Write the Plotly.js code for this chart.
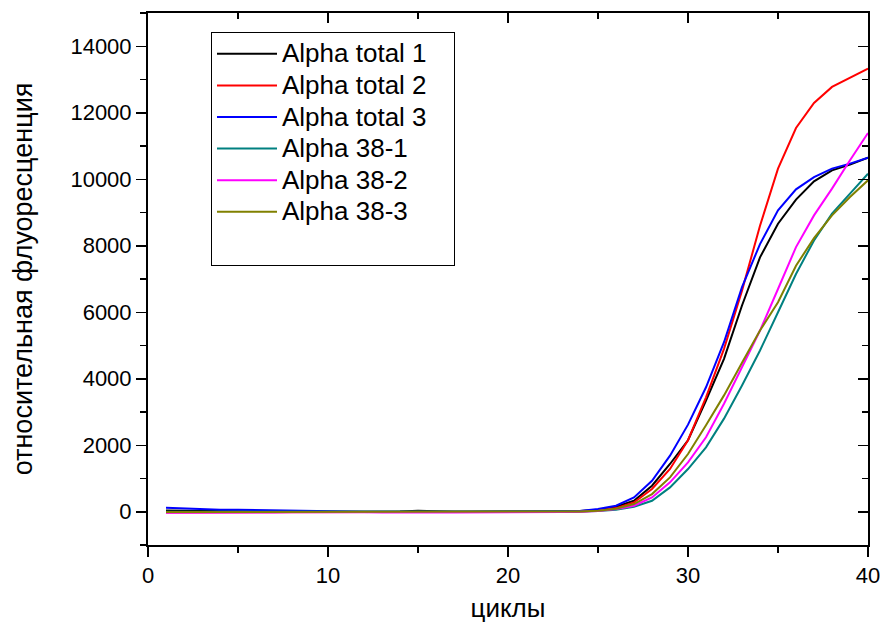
<!DOCTYPE html>
<html>
<head>
<meta charset="utf-8">
<script src="https://cdn.plot.ly/plotly-3.0.1.min.js"></script>
<style>html,body{margin:0;padding:0;background:#fff;}#chart{width:882px;height:623px;}</style>
</head>
<body>
<div id="chart"></div>
<script>
const cycles = Array.from({length: 40}, (_, i) => i + 1);

const seriesNames = ["Alpha total 1", "Alpha total 2", "Alpha total 3", "Alpha 38-1", "Alpha 38-2", "Alpha 38-3"];

const alphaTotal1 = [40, 30, 20, 15, 10, 5, 0, 0, 0, 0, 0, -5, -5, 10, 30, 10, 0, 0, 0, -5, 0, 5, 10, 20,
  60, 150, 331, 783, 1436, 2150, 3342, 4598, 6203, 7650, 8663, 9386, 9937, 10268, 10440, 10650];
const alphaTotal2 = [-20, -20, -15, -10, -10, -5, 0, 0, 0, 0, 0, -5, -10, -5, 0, -5, -5, -5, -10, -10, -5, -5, 0, 10,
  40, 110, 280, 683, 1285, 2150, 3442, 4899, 6650, 8600, 10320, 11540, 12296, 12777, 13060, 13330];
const alphaTotal3 = [120, 100, 70, 60, 60, 50, 30, 20, 10, 5, 0, 0, 0, 5, 10, 5, 0, 0, 0, 0, 5, 10, 15, 25,
  80, 180, 430, 933, 1686, 2620, 3743, 5098, 6754, 8050, 9064, 9696, 10066, 10320, 10470, 10650];
const alpha38_1 = [0, 0, -5, -5, -5, 0, 0, 0, 0, 0, 0, -5, -10, -5, 0, -5, -10, -10, -5, -5, -5, 0, 0, 5,
  20, 60, 150, 331, 732, 1285, 1937, 2800, 3800, 4850, 6000, 7150, 8160, 8964, 9566, 10169];
const alpha38_2 = [-30, -30, -35, -40, -40, -30, -20, -15, -10, -10, -10, -15, -20, -15, -15, -20, -25, -25, -20, -20, -15, -10, -10, 0,
  20, 80, 180, 431, 883, 1485, 2238, 3250, 4330, 5450, 6700, 7959, 8913, 9717, 10570, 11392];
const alpha38_3 = [-10, -10, -10, -5, -5, 0, 0, 0, 0, 0, 0, -5, -5, 0, 0, -5, -5, -5, 0, 0, 0, 0, 5, 10,
  30, 90, 231, 532, 1034, 1737, 2600, 3500, 4480, 5450, 6300, 7400, 8230, 8913, 9465, 9967];

const seriesValues = [alphaTotal1, alphaTotal2, alphaTotal3, alpha38_1, alpha38_2, alpha38_3];
const seriesColors = ["#000000", "#FF0000", "#0000FF", "#008080", "#FF00FF", "#808000"];

const xTickVals = [0, 10, 20, 30, 40];
const yTickVals = [0, 2000, 4000, 6000, 8000, 10000, 12000, 14000];

const FONT = "Arial, 'Liberation Sans', sans-serif";
const legendLabel = s => '<span style="font-size:26px">' + s + '</span>';

const traces = seriesValues.map((vals, i) => ({
  type: "scatter",
  mode: "lines",
  x: cycles,
  y: vals,
  name: legendLabel(seriesNames[i]),
  line: {color: seriesColors[i], width: 2}
}));

// spacer entry: empty bottom row and extra right padding of the legend box
traces.push({
  type: "scatter", mode: "lines", x: [null], y: [null],
  name: legendLabel("\u00a0".repeat(23)),
  line: {color: "rgba(0,0,0,0)", width: 0}, hoverinfo: "skip"
});
// dummy trace to register mirrored inside-tick axes
traces.push({
  type: "scatter", mode: "lines", x: [null], y: [null], xaxis: "x2", yaxis: "y2",
  showlegend: false, hoverinfo: "skip"
});

const layout = {
  width: 882, height: 623,
  margin: {l: 148, r: 14, t: 13, b: 78},
  paper_bgcolor: "#fff", plot_bgcolor: "#fff",
  font: {family: FONT, color: "#000", size: 22},
  showlegend: true,
  legend: {
    x: 0.0875, y: 0.9643, xanchor: "left", yanchor: "top",
    bgcolor: "#fff", bordercolor: "#000", borderwidth: 1,
    font: {family: FONT, size: 22, color: "#000"},
    itemwidth: 60, tracegroupgap: 0
  },
  xaxis: {
    range: [0, 40], tickvals: xTickVals, ticktext: xTickVals.map(String),
    ticks: "outside", ticklen: 10, tickwidth: 1.5, tickcolor: "#000",
    minor: {dtick: 5, tick0: 0, ticks: "outside", ticklen: 6, tickwidth: 1.5, tickcolor: "#000", showgrid: false},
    showline: true, linecolor: "#000", linewidth: 2, mirror: true,
    showgrid: false, zeroline: false,
    tickfont: {size: 22},
    title: {text: "циклы", font: {size: 26}, standoff: 14}
  },
  yaxis: {
    range: [-1000, 15000], tickvals: yTickVals, ticktext: yTickVals.map(String),
    ticks: "outside", ticklen: 10, tickwidth: 1.5, tickcolor: "#000",
    minor: {dtick: 1000, tick0: 0, ticks: "outside", ticklen: 6, tickwidth: 1.5, tickcolor: "#000", showgrid: false},
    showline: true, linecolor: "#000", linewidth: 2, mirror: true,
    showgrid: false, zeroline: false,
    tickfont: {size: 22},
    title: {text: "относительная флуоресценция", font: {size: 27}, standoff: 30}
  },
  xaxis2: {
    overlaying: "x", side: "top", anchor: "y", range: [0, 40], tickvals: xTickVals,
    showticklabels: false, ticks: "inside", ticklen: 10, tickwidth: 1.5, tickcolor: "#000",
    minor: {dtick: 5, tick0: 0, ticks: "inside", ticklen: 6, tickwidth: 1.5, tickcolor: "#000", showgrid: false},
    showline: false, showgrid: false, zeroline: false
  },
  yaxis2: {
    overlaying: "y", side: "right", anchor: "x", range: [-1000, 15000], tickvals: yTickVals,
    showticklabels: false, ticks: "inside", ticklen: 10, tickwidth: 1.5, tickcolor: "#000",
    minor: {dtick: 1000, tick0: 0, ticks: "inside", ticklen: 6, tickwidth: 1.5, tickcolor: "#000", showgrid: false},
    showline: false, showgrid: false, zeroline: false
  }
};

Plotly.newPlot("chart", traces, layout, {displayModeBar: false, staticPlot: true});
</script>
</body>
</html>
